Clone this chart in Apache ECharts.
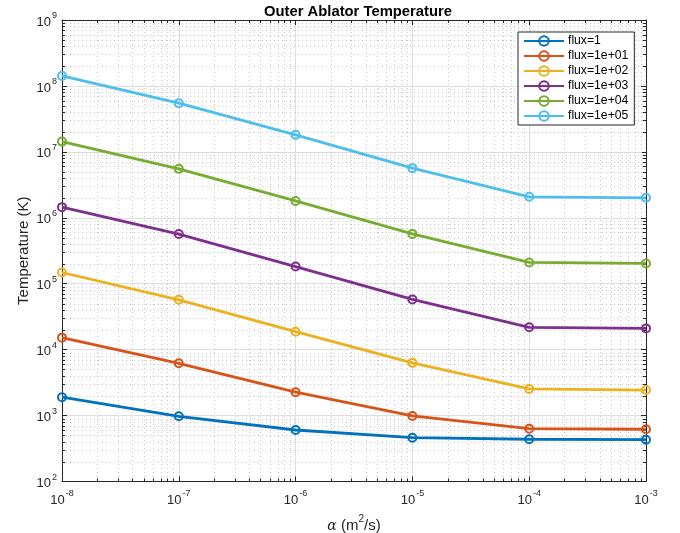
<!DOCTYPE html>
<html>
<head>
<meta charset="utf-8">
<script src="https://cdn.jsdelivr.net/npm/echarts@6/dist/echarts.min.js"></script>
<style>
  html, body { margin: 0; padding: 0; background: #ffffff; }
  #chart { width: 680px; height: 533px; }
</style>
</head>
<body>
<div id="chart"></div>
<script>
// Thermal diffusivity sweep (m^2/s)
const alphaValues = [1e-8, 1e-7, 1e-6, 1e-5, 1e-4, 1e-3];

// Outer ablator temperature (K) for each flux level
const tempFlux1   = [1900, 975, 604, 462, 437, 431];
const tempFlux1e1 = [15200, 6200, 2260, 986, 633, 620];
const tempFlux1e2 = [148000, 57000, 18700, 6300, 2540, 2440];
const tempFlux1e3 = [1450000, 566000, 182000, 57800, 21800, 21000];
const tempFlux1e4 = [14300000, 5520000, 1800000, 570000, 210000, 203000];
const tempFlux1e5 = [142000000, 54800000, 18100000, 5660000, 2080000, 2010000];

const seriesNames = ['flux=1', 'flux=1e+01', 'flux=1e+02', 'flux=1e+03', 'flux=1e+04', 'flux=1e+05'];
const seriesValues = [tempFlux1, tempFlux1e1, tempFlux1e2, tempFlux1e3, tempFlux1e4, tempFlux1e5];
const seriesColors = ['#0072BD', '#D95319', '#EDB120', '#7E2F8E', '#77AC30', '#4DBEEE'];

// Axis extents
const xMin = 1e-8, xMax = 1e-3;
const yMin = 1e2, yMax = 1e9;

const FONT = '"Liberation Sans", Arial, Helvetica, sans-serif';
const AXIS_COLOR = '#262626';

// Minor (2..9 x 10^k) positions inside a log range
function minorSteps(lo, hi) {
  const out = [];
  for (let k = Math.round(Math.log10(lo)); k < Math.round(Math.log10(hi)); k++) {
    for (let m = 2; m <= 9; m++) out.push(m * Math.pow(10, k));
  }
  return out;
}
const xMinor = minorSteps(xMin, xMax);
const yMinor = minorSteps(yMin, yMax);

function powLabel(v) {
  const e = Math.round(Math.log10(v));
  return '{b|10}{s|' + e + '}';
}
const powRich = {
  b: { fontSize: 13, fontFamily: FONT, color: AXIS_COLOR, lineHeight: 17, verticalAlign: 'bottom' },
  s: { fontSize: 9, fontFamily: FONT, color: AXIS_COLOR, lineHeight: 17, verticalAlign: 'top', padding: [0, 0, 0, 1] }
};

const minorLine = { stroke: '#c8c8c8', lineWidth: 1, lineDash: [1, 3] };
const tickLine = { stroke: AXIS_COLOR, lineWidth: 1 };
const px = v => Math.round(v) + 0.5;

const chart = echarts.init(document.getElementById('chart'), null, { renderer: 'canvas' });

const baseX = {
  type: 'log', logBase: 10, min: xMin, max: xMax,
  axisLine: { show: true, lineStyle: { color: AXIS_COLOR, width: 1 } },
  axisTick: { show: true, inside: true, length: 5, lineStyle: { color: AXIS_COLOR } },
  minorTick: { show: false }
};
const baseY = {
  type: 'log', logBase: 10, min: yMin, max: yMax,
  axisLine: { show: true, lineStyle: { color: AXIS_COLOR, width: 1 } },
  axisTick: { show: true, inside: true, length: 5, lineStyle: { color: AXIS_COLOR } },
  minorTick: { show: false }
};

const lineSeries = seriesNames.map((name, i) => ({
  name: name,
  type: 'line',
  xAxisIndex: 0, yAxisIndex: 0,
  data: alphaValues.map((a, j) => [a, seriesValues[i][j]]),
  symbol: 'circle',
  symbolSize: 8,
  showSymbol: true,
  lineStyle: { color: seriesColors[i], width: 2.8 },
  itemStyle: { color: 'rgba(255,255,255,0)', borderColor: seriesColors[i], borderWidth: 2 },
  emphasis: { disabled: true },
  z: 5,
  animation: false
}));

const option = {
  backgroundColor: '#ffffff',
  animation: false,
  title: {
    text: 'Outer Ablator Temperature',
    left: 353, top: -1, textAlign: 'center',
    textStyle: { fontFamily: FONT, fontSize: 14.8, fontWeight: 'bold', color: '#000000' }
  },
  grid: { left: 62, top: 20, width: 584, height: 461.5, containLabel: false, outerBoundsMode: 'none' },
  legend: {
    orient: 'vertical',
    left: 518, top: 32,
    padding: [3, 6, 3, 5],
    itemGap: 3,
    itemWidth: 40, itemHeight: 12,
    backgroundColor: '#ffffff',
    borderColor: AXIS_COLOR, borderWidth: 1, borderRadius: 0,
    textStyle: { fontFamily: FONT, fontSize: 12.2, color: '#000000', padding: [0, 0, 0, -1] },
    data: seriesNames,
    selectedMode: false
  },
  xAxis: [
    Object.assign({}, baseX, {
      position: 'bottom',
      name: '{a|α} {t|(m}{p|2}{t|/s)}',
      nameLocation: 'middle', nameGap: 33,
      nameTextStyle: {
        fontFamily: FONT, fontSize: 15, color: AXIS_COLOR,
        rich: {
          a: { fontFamily: '"DejaVu Serif", serif', fontStyle: 'italic', fontSize: 14, color: AXIS_COLOR, lineHeight: 19, verticalAlign: 'bottom' },
          t: { fontFamily: FONT, fontSize: 15, color: AXIS_COLOR, lineHeight: 19, verticalAlign: 'bottom' },
          p: { fontFamily: FONT, fontSize: 10, color: AXIS_COLOR, lineHeight: 19, verticalAlign: 'top' }
        }
      },
      axisLabel: { show: true, margin: 8, formatter: powLabel, rich: powRich },
      splitLine: { show: true, lineStyle: { color: '#dedede', width: 1 } }
    }),
    Object.assign({}, baseX, {
      position: 'top',
      axisLabel: { show: false },
      splitLine: { show: false }
    })
  ],
  yAxis: [
    Object.assign({}, baseY, {
      position: 'left',
      name: 'Temperature (K)',
      nameLocation: 'middle', nameGap: 31, nameMoveOverlap: false,
      nameTextStyle: { fontFamily: FONT, fontSize: 15, color: AXIS_COLOR },
      axisLabel: { show: true, margin: 5, formatter: powLabel, rich: powRich },
      splitLine: { show: true, lineStyle: { color: '#dedede', width: 1 } }
    }),
    Object.assign({}, baseY, {
      position: 'right',
      axisLabel: { show: false },
      splitLine: { show: false }
    })
  ],
  series: [
    {
      // vertical minor grid + minor ticks on bottom/top edges
      type: 'custom', xAxisIndex: 0, yAxisIndex: 0, silent: true, z: 1,
      data: xMinor.map(v => [v, yMin]),
      renderItem: function (params, api) {
        const cs = params.coordSys;
        const x = px(api.coord([api.value(0), yMin])[0]);
        const y0 = cs.y, y1 = cs.y + cs.height;
        return { type: 'group', children: [
          { type: 'line', shape: { x1: x, y1: y0, x2: x, y2: y1 }, style: minorLine },
          { type: 'line', shape: { x1: x, y1: y1, x2: x, y2: y1 - 3 }, style: tickLine },
          { type: 'line', shape: { x1: x, y1: y0, x2: x, y2: y0 + 3 }, style: tickLine }
        ] };
      },
      animation: false
    },
    {
      // horizontal minor grid + minor ticks on left/right edges
      type: 'custom', xAxisIndex: 0, yAxisIndex: 0, silent: true, z: 1,
      data: yMinor.map(v => [xMin, v]),
      renderItem: function (params, api) {
        const cs = params.coordSys;
        const y = px(api.coord([xMin, api.value(1)])[1]);
        const x0 = cs.x, x1 = cs.x + cs.width;
        return { type: 'group', children: [
          { type: 'line', shape: { x1: x0, y1: y, x2: x1, y2: y }, style: minorLine },
          { type: 'line', shape: { x1: x0, y1: y, x2: x0 + 3, y2: y }, style: tickLine },
          { type: 'line', shape: { x1: x1, y1: y, x2: x1 - 3, y2: y }, style: tickLine }
        ] };
      },
      animation: false
    }
  ].concat(lineSeries)
};

chart.setOption(option);
</script>
</body>
</html>
